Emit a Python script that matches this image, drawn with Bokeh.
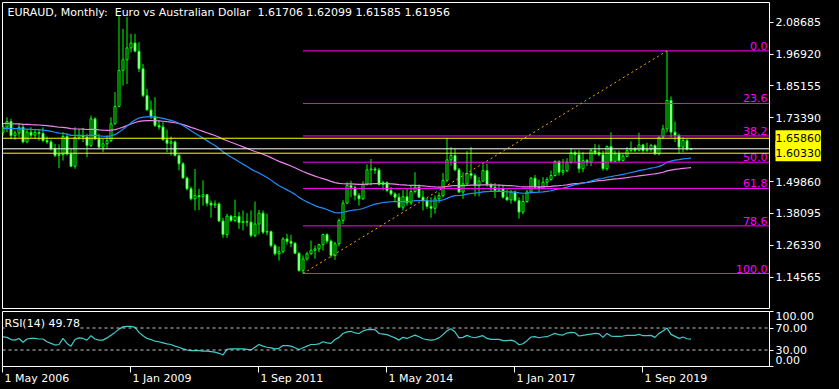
import numpy as np
import pandas as pd
from bokeh.plotting import figure
from bokeh.layouts import column
from bokeh.models import (Range1d, Span, Label, FixedTicker, ColumnDataSource,
                          NumeralTickFormatter)
from bokeh.transform import dodge
from bokeh.core.properties import value
from bokeh.embed import file_html
from bokeh.resources import INLINE

# ------------------------------------------------------------------ data
first_month = "2006-05"

opens = [
    1.680, 1.700, 1.720, 1.668, 1.678, 1.699, 1.645, 1.681, 1.670, 1.680,
    1.676, 1.650, 1.645, 1.620, 1.595, 1.598, 1.665, 1.601, 1.555, 1.662,
    1.669, 1.663, 1.632, 1.730, 1.656, 1.626, 1.638, 1.650, 1.712, 1.776,
    1.909, 1.948, 1.992, 2.010, 1.980, 1.915, 1.816, 1.763, 1.739, 1.706,
    1.700, 1.653, 1.640, 1.645, 1.595, 1.564, 1.512, 1.472, 1.435, 1.447,
    1.443, 1.450, 1.419, 1.412, 1.416, 1.353, 1.303, 1.371, 1.355, 1.370,
    1.347, 1.351, 1.349, 1.300, 1.342, 1.382, 1.312, 1.314, 1.262, 1.232,
    1.240, 1.287, 1.278, 1.271, 1.234, 1.170, 1.213, 1.232, 1.245, 1.250,
    1.266, 1.303, 1.279, 1.226, 1.269, 1.355, 1.419, 1.484, 1.476, 1.447,
    1.435, 1.488, 1.542, 1.545, 1.541, 1.488, 1.495, 1.466, 1.453, 1.441,
    1.404, 1.443, 1.420, 1.462, 1.478, 1.441, 1.429, 1.407, 1.400, 1.435,
    1.447, 1.503, 1.579, 1.595, 1.542, 1.460, 1.490, 1.529, 1.521, 1.484,
    1.500, 1.539, 1.488, 1.478, 1.466, 1.472, 1.441, 1.431, 1.460, 1.429,
    1.386, 1.425, 1.460, 1.511, 1.478, 1.474, 1.496, 1.506, 1.521, 1.573,
    1.533, 1.539, 1.570, 1.605, 1.598, 1.546, 1.576, 1.570, 1.613, 1.605,
    1.598, 1.546, 1.628, 1.573, 1.601, 1.576, 1.592, 1.613, 1.620, 1.614,
    1.634, 1.613, 1.617, 1.632, 1.601, 1.663, 1.693, 1.798, 1.681, 1.669,
    1.626, 1.650, 1.61706,
]
highs = [
    1.712, 1.736, 1.730, 1.687, 1.714, 1.709, 1.690, 1.699, 1.693, 1.693,
    1.699, 1.665, 1.653, 1.638, 1.636, 1.681, 1.675, 1.620, 1.699, 1.693,
    1.697, 1.675, 1.742, 1.736, 1.675, 1.656, 1.669, 1.736, 1.829, 2.111,
    2.062, 2.105, 2.044, 2.044, 2.013, 1.933, 1.841, 1.798, 1.810, 1.724,
    1.718, 1.690, 1.665, 1.650, 1.601, 1.570, 1.517, 1.480, 1.545, 1.472,
    1.503, 1.453, 1.429, 1.429, 1.422, 1.365, 1.380, 1.375, 1.432, 1.386,
    1.392, 1.382, 1.392, 1.425, 1.394, 1.392, 1.380, 1.318, 1.269, 1.259,
    1.293, 1.306, 1.302, 1.275, 1.238, 1.226, 1.240, 1.281, 1.263, 1.269,
    1.306, 1.308, 1.285, 1.276, 1.362, 1.430, 1.496, 1.502, 1.484, 1.456,
    1.500, 1.562, 1.582, 1.552, 1.549, 1.502, 1.500, 1.478, 1.459, 1.456,
    1.468, 1.472, 1.484, 1.533, 1.488, 1.466, 1.438, 1.441, 1.447, 1.459,
    1.530, 1.660, 1.626, 1.620, 1.549, 1.533, 1.611, 1.626, 1.529, 1.515,
    1.562, 1.564, 1.493, 1.493, 1.488, 1.483, 1.470, 1.468, 1.466, 1.441,
    1.450, 1.468, 1.515, 1.523, 1.506, 1.515, 1.515, 1.539, 1.577, 1.577,
    1.582, 1.585, 1.620, 1.614, 1.614, 1.607, 1.582, 1.620, 1.638, 1.635,
    1.613, 1.632, 1.681, 1.613, 1.613, 1.601, 1.626, 1.647, 1.626, 1.679,
    1.638, 1.642, 1.638, 1.636, 1.663, 1.708, 1.981, 1.813, 1.720, 1.675,
    1.662, 1.656, 1.62099,
]
lows = [
    1.668, 1.681, 1.656, 1.653, 1.662, 1.640, 1.640, 1.660, 1.656, 1.650,
    1.644, 1.638, 1.613, 1.589, 1.548, 1.576, 1.595, 1.552, 1.546, 1.653,
    1.644, 1.589, 1.626, 1.653, 1.620, 1.607, 1.620, 1.644, 1.709, 1.773,
    1.853, 1.859, 1.975, 1.976, 1.903, 1.810, 1.761, 1.730, 1.700, 1.690,
    1.650, 1.607, 1.595, 1.591, 1.540, 1.509, 1.466, 1.429, 1.392, 1.394,
    1.410, 1.407, 1.365, 1.401, 1.349, 1.291, 1.291, 1.349, 1.349, 1.324,
    1.318, 1.333, 1.293, 1.293, 1.303, 1.305, 1.300, 1.256, 1.226, 1.207,
    1.234, 1.266, 1.256, 1.232, 1.166, 1.1593, 1.207, 1.229, 1.214, 1.238,
    1.244, 1.270, 1.218, 1.210, 1.260, 1.342, 1.416, 1.441, 1.429, 1.410,
    1.431, 1.484, 1.484, 1.527, 1.484, 1.466, 1.459, 1.447, 1.423, 1.402,
    1.392, 1.410, 1.412, 1.456, 1.438, 1.392, 1.398, 1.365, 1.380, 1.420,
    1.440, 1.496, 1.558, 1.537, 1.456, 1.435, 1.488, 1.509, 1.444, 1.444,
    1.500, 1.480, 1.460, 1.438, 1.464, 1.436, 1.428, 1.417, 1.423, 1.362,
    1.378, 1.420, 1.456, 1.472, 1.460, 1.472, 1.482, 1.502, 1.517, 1.521,
    1.521, 1.533, 1.564, 1.568, 1.531, 1.533, 1.556, 1.556, 1.597, 1.592,
    1.539, 1.539, 1.570, 1.570, 1.570, 1.573, 1.589, 1.607, 1.607, 1.610,
    1.605, 1.607, 1.607, 1.597, 1.595, 1.656, 1.681, 1.662, 1.644, 1.601,
    1.607, 1.613, 1.61585,
]
closes = [
    1.700, 1.720, 1.668, 1.678, 1.699, 1.645, 1.681, 1.670, 1.680, 1.676,
    1.650, 1.645, 1.620, 1.595, 1.598, 1.665, 1.601, 1.555, 1.662, 1.669,
    1.663, 1.632, 1.730, 1.656, 1.626, 1.638, 1.650, 1.712, 1.776, 1.909,
    1.948, 1.992, 2.010, 1.980, 1.915, 1.816, 1.763, 1.739, 1.706, 1.700,
    1.653, 1.640, 1.645, 1.595, 1.564, 1.512, 1.472, 1.435, 1.447, 1.443,
    1.450, 1.419, 1.412, 1.416, 1.353, 1.303, 1.371, 1.355, 1.370, 1.347,
    1.351, 1.349, 1.300, 1.342, 1.382, 1.312, 1.314, 1.262, 1.232, 1.240,
    1.287, 1.278, 1.271, 1.234, 1.170, 1.213, 1.232, 1.245, 1.250, 1.266,
    1.303, 1.279, 1.226, 1.269, 1.355, 1.419, 1.484, 1.476, 1.447, 1.435,
    1.488, 1.542, 1.545, 1.541, 1.488, 1.495, 1.466, 1.453, 1.441, 1.404,
    1.443, 1.420, 1.462, 1.478, 1.441, 1.429, 1.407, 1.400, 1.435, 1.447,
    1.503, 1.579, 1.595, 1.542, 1.460, 1.490, 1.529, 1.521, 1.484, 1.500,
    1.539, 1.488, 1.478, 1.466, 1.472, 1.441, 1.431, 1.460, 1.429, 1.386,
    1.425, 1.460, 1.511, 1.478, 1.474, 1.496, 1.506, 1.521, 1.573, 1.533,
    1.539, 1.570, 1.605, 1.598, 1.546, 1.576, 1.570, 1.613, 1.605, 1.598,
    1.546, 1.628, 1.573, 1.601, 1.576, 1.592, 1.613, 1.620, 1.614, 1.634,
    1.613, 1.617, 1.632, 1.601, 1.663, 1.693, 1.798, 1.681, 1.669, 1.626,
    1.650, 1.617, 1.61956,
]
rsi14 = [
    54, 53, 49, 48, 51, 44, 50, 51, 51, 50,
    50, 45, 42, 39, 40, 51, 42, 37, 49, 52,
    51, 48, 56, 50, 48, 48, 52, 57, 62, 68,
    72, 73, 73, 71, 62, 56, 51, 49, 46, 45,
    43, 41, 40, 37, 35, 32, 30, 29, 29, 29,
    28, 28, 27, 26, 24, 21, 31, 32, 32, 32,
    32, 31, 30, 35, 40, 37, 35, 34, 32, 33,
    38, 38, 37, 34, 31, 34, 37, 40, 40, 41,
    45, 43, 42, 49, 53, 60, 63, 64, 61, 60,
    64.5, 67, 67.5, 67, 60, 59, 58, 55, 52, 48,
    53, 51, 54, 57, 54, 50.5, 48.7, 48, 49, 52,
    58, 65, 68.7, 62.7, 52, 53, 56.6, 53.6, 52.3, 54.2,
    56, 51, 49.3, 49.3, 49.3, 47, 47, 48, 45.7, 39.6,
    41.4, 47, 53.6, 54.2, 52.3, 53.6, 54.2, 57.2, 60.2, 57.8,
    57.2, 60.8, 62, 61.4, 55.4, 56.6, 57.8, 59, 60.2, 59.6,
    53, 60.2, 55.4, 54.8, 54.8, 55.4, 56.6, 56.6, 56.6, 58.4,
    56, 56, 56.6, 53, 60.2, 64.5, 69.9, 58.4, 54.8, 51.1,
    53.6, 50.5, 49.78,
]

ema_fast_period = 50
ema_slow_period = 100
ema_fast_start = 1.695      # value of the fast average at the first bar
ema_slow_start = 1.713      # value of the slow average at the first bar

marked_levels = [1.65860, 1.60330]
fib_percent = [0.0, 23.6, 38.2, 50.0, 61.8, 78.6, 100.0]
fib_anchor_months = ["2012-08", "2020-03"]
price_ticks = [1.14565, 1.26330, 1.38095, 1.49860, 1.73390, 1.85155, 1.96920, 2.08685]
date_tick_months = ["2006-05", "2009-01", "2011-09", "2014-05", "2017-01", "2019-09"]
rsi_levels = [30, 70]
rsi_axis_values = [100, 70, 30, 0]
title_text = "EURAUD, Monthly:  Euro vs Australian Dollar  1.61706 1.62099 1.61585 1.61956"
rsi_title = "RSI(14) 49.78"

# ------------------------------------------------------------------ layout / style
FONT = "DejaVu Sans"
FS = "11px"
BAR_PX = 4
FRAME_W = 767
MAIN_H = 307
RSI_H = 55
LEFT = 2
RIGHT_W = 70
PRICE_TOP = 2.1596
PRICE_PER_PX = 0.003691
RSI_PER_PX = 100.0 / RSI_H
GREEN = "#00FF00"
MAGENTA = "#FF00FF"

n = len(closes)
months = pd.period_range(first_month, periods=n, freq="M")
month_index = {str(m): i for i, m in enumerate(months)}
xi = np.arange(n)
x_end = FRAME_W / BAR_PX


def ema(vals, period, start):
    a = 2.0 / (period + 1)
    out = [start]
    for v in vals[1:]:
        out.append(out[-1] + a * (v - out[-1]))
    return out


ema_fast = ema(closes, ema_fast_period, ema_fast_start)
ema_slow = ema(closes, ema_slow_period, ema_slow_start)


def side_label(fig, place, **kw):
    lab = Label(text_font=FONT, text_font_size=FS, **kw)
    fig.add_layout(lab, place)
    return lab


# ------------------------------------------------------------------ main pane
p = figure(frame_width=FRAME_W, frame_height=MAIN_H,
           x_range=Range1d(0, x_end),
           y_range=Range1d(PRICE_TOP - MAIN_H * PRICE_PER_PX, PRICE_TOP),
           x_axis_location=None, y_axis_location="right",
           output_backend="svg", toolbar_location=None,
           background_fill_color="black", border_fill_color="black",
           min_border_left=LEFT, min_border_top=2, min_border_bottom=0,
           min_border_right=RIGHT_W)
p.grid.visible = False
p.outline_line_color = "white"
p.outline_line_width = 1

ax = p.yaxis[0]
ax.ticker = FixedTicker(ticks=price_ticks)
ax.formatter = NumeralTickFormatter(format="0.00000")
ax.axis_line_color = None
ax.major_tick_line_color = "white"
ax.major_tick_out = 4
ax.major_tick_in = 0
ax.minor_tick_line_color = None
ax.major_label_text_color = "white"
ax.major_label_text_font = FONT
ax.major_label_text_font_size = FS
ax.major_label_standoff = 2

o = np.array(opens)
c = np.array(closes)
src = ColumnDataSource(dict(
    x=xi, high=highs, low=lows,
    top=np.maximum(o, c), bottom=np.minimum(o, c),
    fill=np.where(c >= o, "black", "white"),
    fast=ema_fast, slow=ema_slow,
))
xd = dodge("x", 0.125, range=p.x_range)
p.segment(x0=xd, y0="low", x1=xd, y1="high", source=src, line_color=GREEN, line_width=1)
p.vbar(x=xd, width=0.5, top="top", bottom="bottom", source=src,
       fill_color="fill", line_color=GREEN, line_width=1)
p.line(x=xd, y="slow", source=src, line_color="#EE82EE", line_width=1.2)
p.line(x=xd, y="fast", source=src, line_color="#1E90FF", line_width=1.2)

# Fibonacci retracement between the anchor bars
i_lo = month_index[fib_anchor_months[0]]
i_hi = month_index[fib_anchor_months[1]]
f_lo = lows[i_lo]
f_hi = highs[i_hi]
fib_prices = [f_hi - (f_hi - f_lo) * q / 100.0 for q in fib_percent]
k = len(fib_percent)
fib_src = ColumnDataSource(dict(
    x0=[i_lo] * k, x1=[x_end] * k, xl=[x_end - 0.5] * k,
    y=fib_prices, label=[f"{q:.1f}" for q in fib_percent],
))
p.segment(x0=dodge("x0", 0.125, range=p.x_range), y0="y", x1="x1", y1="y",
          source=fib_src, line_color=MAGENTA, line_width=1)
p.text(x="xl", y="y", text="label", source=fib_src, text_align="right",
       text_baseline="bottom", y_offset=-1, text_color=MAGENTA,
       text_font=value(FONT), text_font_size=FS)

trend_src = ColumnDataSource(dict(x=[i_lo, i_hi], y=[f_lo, f_hi]))
p.line(x=dodge("x", 0.125, range=p.x_range), y="y", source=trend_src,
       line_color="#FFA500", line_width=1, line_dash="2 3")

for lv in marked_levels:
    p.add_layout(Span(location=lv, dimension="width", line_color="yellow", line_width=1))
p.add_layout(Span(location=closes[-1], dimension="width", line_color="white", line_width=1))

title_src = ColumnDataSource(dict(x=[1.25], y=[PRICE_TOP - 10 * PRICE_PER_PX],
                                  t=[title_text.replace("  ", " \u00a0")]))
p.text(x="x", y="y", text="t", source=title_src, text_baseline="middle",
       text_color="white", text_font=value(FONT), text_font_size=FS)

# price boxes on the axis strip (side panel, so they are not clipped to the frame)
side_label(p, "right", x=x_end + 1.5, y=closes[-1], text=f"{closes[-1]:.5f}",
           text_color="black", text_baseline="middle",
           background_fill_color="white", padding=(0, 4))
for lv in sorted(marked_levels):
    side_label(p, "right", x=x_end + 1.5, y=lv, text=f"{lv:.5f}",
               text_color="black", text_baseline="middle",
               background_fill_color="yellow", padding=(0, 4))

# ------------------------------------------------------------------ RSI pane
r = figure(frame_width=FRAME_W, frame_height=RSI_H,
           x_range=p.x_range, y_range=Range1d(0, 100),
           y_axis_location="right",
           output_backend="svg", toolbar_location=None,
           background_fill_color="black", border_fill_color="black",
           min_border_left=LEFT, min_border_top=2, min_border_bottom=23,
           min_border_right=RIGHT_W)
r.grid.visible = False
r.outline_line_color = "white"
r.outline_line_width = 1

rsi_src = ColumnDataSource(dict(x=xi, rsi=rsi14))
for lv in rsi_levels:
    r.add_layout(Span(location=lv, dimension="width", line_color="#C8C8C8",
                      line_width=1, line_dash="3 3"))
r.line(x=dodge("x", 0.125, range=r.x_range), y="rsi", source=rsi_src,
       line_color="#40CCCC", line_width=1.2)
r.add_layout(Label(x=0.5, y=78, text=rsi_title, text_font=FONT, text_font_size=FS,
                   text_color="white", text_baseline="middle",
                   background_fill_color="black", padding=(0, 2)))

ry = r.yaxis[0]
ry.ticker = FixedTicker(ticks=rsi_axis_values)
ry.axis_line_color = None
ry.major_tick_line_color = "white"
ry.major_tick_out = 4
ry.major_tick_in = 0
ry.minor_tick_line_color = None
ry.major_label_text_color = None
ry.major_label_text_font_size = FS
rsi_label_pos = {100: 91, 70: 70, 30: 30, 0: 12}
for v in rsi_axis_values:
    side_label(r, "right", x=x_end + 1.5, y=rsi_label_pos[v], text=f"{v:.2f}",
               text_color="white", text_baseline="middle")

rx = r.xaxis[0]
date_ticks = [month_index[m] for m in date_tick_months]
rx.ticker = FixedTicker(ticks=date_ticks)
rx.major_label_overrides = {t: "1 " + pd.Period(m).strftime("%b %Y")
                            for t, m in zip(date_ticks, date_tick_months)}
rx.axis_line_color = None
rx.major_tick_line_color = "white"
rx.major_tick_out = 6
rx.major_tick_in = 0
rx.minor_tick_line_color = None
rx.major_label_text_color = None
rx.major_label_text_font = FONT
rx.major_label_text_font_size = FS
rx.major_label_standoff = 0
for t, m in zip(date_ticks, date_tick_months):
    side_label(r, "below", x=t + 0.5, y=-12 * RSI_PER_PX,
               text="1 " + pd.Period(m).strftime("%b %Y"),
               text_color="white", text_baseline="middle", text_align="left")

layout = column(p, r)
page_style = "{% block postamble %}<style>html, body { background: #000000; }</style>{% endblock %}"
open("out.html", "w").write(file_html(layout, INLINE, template=page_style))
